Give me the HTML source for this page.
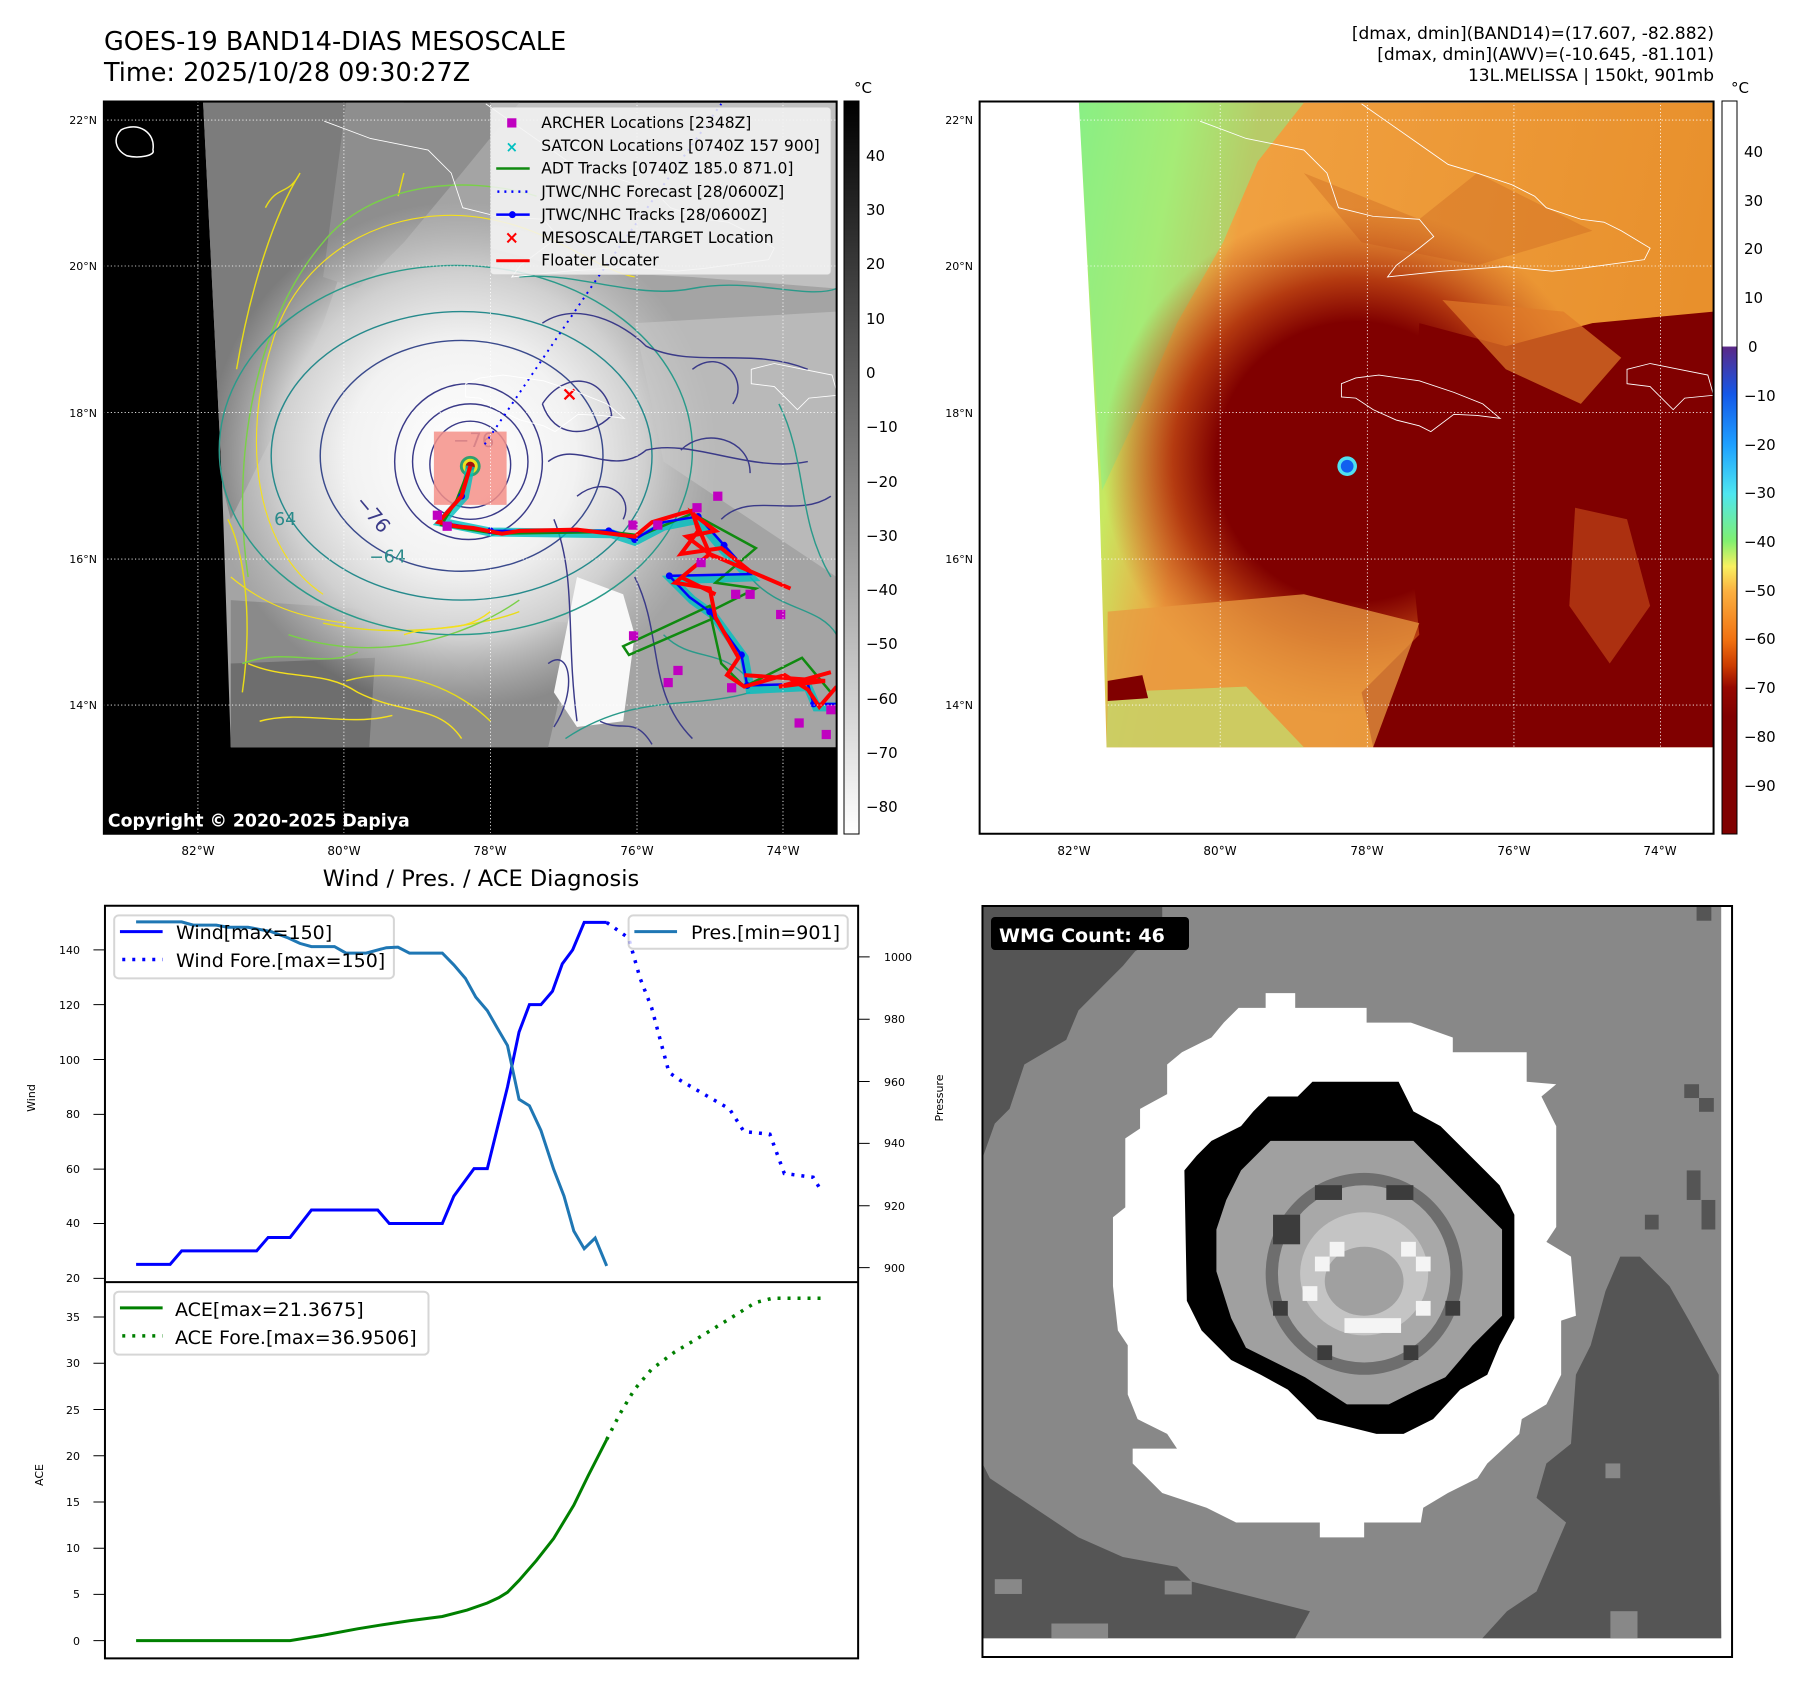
<!DOCTYPE html>
<html><head><meta charset="utf-8"><style>
html,body{margin:0;padding:0;background:#fff}
svg{display:block;font-family:"DejaVu Sans","Liberation Sans",sans-serif}
</style></head><body>
<svg width="1797" height="1690" viewBox="0 0 1797 1690" xmlns="http://www.w3.org/2000/svg">
<defs>
<linearGradient id="cb1" x1="0" y1="0" x2="0" y2="1"><stop offset="0" stop-color="#000"/><stop offset="1" stop-color="#fff"/></linearGradient>
<linearGradient id="cb2" x1="0" y1="0" x2="0" y2="1">
<stop offset="0" stop-color="#fff"/><stop offset="0.334" stop-color="#fff"/><stop offset="0.336" stop-color="#5a2888"/>
<stop offset="0.40" stop-color="#1458e8"/><stop offset="0.469" stop-color="#1ea0ff"/><stop offset="0.536" stop-color="#4ee6f0"/>
<stop offset="0.60" stop-color="#80f070"/><stop offset="0.635" stop-color="#f8f060"/><stop offset="0.669" stop-color="#fbb040"/>
<stop offset="0.736" stop-color="#f07010"/><stop offset="0.77" stop-color="#cc3c00"/><stop offset="0.80" stop-color="#960800"/>
<stop offset="0.84" stop-color="#800000"/><stop offset="1" stop-color="#800000"/></linearGradient>
<radialGradient id="g1c" cx="800" cy="790" r="440" gradientUnits="userSpaceOnUse">
<stop offset="0" stop-color="#fff"/><stop offset="0.45" stop-color="#f2f2f2"/><stop offset="0.72" stop-color="#d0d0d0"/><stop offset="1" stop-color="#c0c0c0" stop-opacity="0"/></radialGradient>
<radialGradient id="g2c" cx="790" cy="800" r="440" gradientUnits="userSpaceOnUse">
<stop offset="0" stop-color="#800000"/><stop offset="0.55" stop-color="#800000"/><stop offset="0.72" stop-color="#b43a10"/><stop offset="1" stop-color="#c85a20" stop-opacity="0"/></radialGradient>
<linearGradient id="g2b" x1="0" y1="0" x2="1" y2="0.2">
<stop offset="0" stop-color="#8af080"/><stop offset="0.16" stop-color="#c8e860"/><stop offset="0.28" stop-color="#f0a040"/><stop offset="1" stop-color="#e8902c"/></linearGradient>
<clipPath id="c1"><rect x="180" y="176" width="1270" height="1269"/></clipPath>
<clipPath id="c2"><rect x="138" y="176" width="1272" height="1269"/></clipPath>
</defs>

<text x="104" y="50" font-size="25.5">GOES-19 BAND14-DIAS MESOSCALE</text>
<text x="104" y="81" font-size="25.5">Time: 2025/10/28 09:30:27Z</text>
<g font-size="17" text-anchor="end">
<text x="1714" y="39">[dmax, dmin](BAND14)=(17.607, -82.882)</text>
<text x="1714" y="60">[dmax, dmin](AWV)=(-10.645, -81.101)</text>
<text x="1714" y="81">13L.MELISSA | 150kt, 901mb</text>
</g>

<!-- PANEL 1 -->
<g transform="scale(0.577)">
<g clip-path="url(#c1)">
<rect x="180" y="176" width="1270" height="1269" fill="#000"/>
<polygon points="352,178 1450,178 1450,1295 400,1295 385,840" fill="#a4a4a4"/>
<polygon points="352,178 700,178 650,300 560,560 470,760 400,900 385,840" fill="#7c7c7c"/>
<polygon points="600,178 900,178 800,300 700,420 620,500 560,480" fill="#8e8e8e"/>
<polygon points="400,1040 1000,1080 950,1295 400,1295" fill="#8a8a8a"/>
<polygon points="400,1150 650,1140 640,1295 400,1295" fill="#6e6e6e"/>
<polygon points="352,178 1450,178 1450,1295 400,1295 385,840" fill="url(#g1c)"/>
<polygon points="1000,1000 1080,1030 1100,1100 1080,1250 1000,1260 960,1200 980,1100" fill="#f8f8f8"/>
<polygon points="1100,560 1450,540 1450,1000 1300,900 1150,800" fill="#c8c8c8" opacity="0.6"/>
<polygon points="850,178 1450,178 1450,500 1200,480 1000,470 850,430" fill="#d4d4d4" opacity="0.6"/>
<g fill="none" stroke-width="2.5" vector-effect="non-scaling-stroke">
<path d="M560,1030 C440,950 420,760 470,600 C520,420 700,350 850,380 C960,400 1040,470 1100,480 M400,1000 C460,1050 520,1070 600,1080" stroke="#f5e01c" stroke-width="2"/>
<path d="M410,640 C430,520 470,380 520,300 M395,900 C420,950 440,1060 420,1200 M560,1080 C700,1110 850,1080 900,1060 M600,1180 C700,1150 800,1200 850,1250 M460,360 C480,320 500,340 520,300 M690,340 L700,300" stroke="#e8dc18"/>
<path d="M430,1000 C400,800 440,560 560,420 C640,320 800,300 930,340 M500,1100 C650,1150 800,1110 900,1040 M420,1150 C500,1120 560,1160 620,1130" stroke="#7ad048"/>
<ellipse cx="790" cy="780" rx="410" ry="320" stroke="#2a9a8a"/>
<ellipse cx="800" cy="790" rx="330" ry="250" stroke="#268a8c"/>
<ellipse cx="800" cy="790" rx="245" ry="200" stroke="#3a4a8c"/>
<ellipse cx="812" cy="800" rx="128" ry="135" stroke="#3a3a88"/>
<ellipse cx="815" cy="800" rx="100" ry="100" stroke="#3a3a88"/>
<ellipse cx="815" cy="805" rx="70" ry="75" stroke="#3a3a88"/>
<path d="M940,560 C1000,520 1080,560 1120,600 C1200,640 1300,600 1400,640 M950,800 C1000,760 1060,830 1120,780 C1200,760 1300,820 1400,800 M960,900 C1000,1000 980,1100 1000,1250 M1100,1000 C1150,1100 1120,1200 1200,1280 M1250,900 C1300,850 1380,900 1440,860 M940,700 C980,640 1050,650 1060,720 C1020,760 960,760 940,700 M1000,860 C1050,820 1100,860 1080,900 M1200,640 C1250,600 1300,660 1270,700 M1180,780 C1220,740 1300,760 1300,820 M950,1150 C990,1120 1000,1200 960,1260 M1040,1250 C1080,1270 1100,1240 1130,1290" stroke="#3a3a88"/>
<path d="M900,480 C1000,470 1100,520 1200,500 C1300,480 1400,520 1450,500 M980,1280 C1100,1200 1200,1230 1300,1200 M1350,700 C1400,800 1380,900 1440,1000 M1150,1100 C1200,1150 1250,1120 1300,1180 M1300,1000 C1350,1060 1420,1050 1450,1100" stroke="#2a9a8a"/>
<path d="M430,1150 C500,1180 560,1160 620,1200 C700,1240 760,1220 800,1280 M450,1250 C520,1230 600,1260 680,1240 M700,1100 C760,1080 800,1100 850,1060" stroke="#f5e01c"/>
</g>
<g font-size="34" fill="#3a3a88"><text x="785" y="775">−76</text><text x="615" y="890" transform="rotate(50 635 880)">−76</text></g>
<g font-size="30" fill="#2a8a8a"><text x="475" y="910">64</text><text x="640" y="975">−64</text></g>
<rect x="752" y="748" width="126" height="127" fill="#f49088" opacity="0.85"/>
<circle cx="815" cy="808" r="18" fill="#30a070"/><circle cx="815" cy="808" r="13" fill="#f0e020"/><circle cx="815" cy="808" r="8" fill="#a01010"/>
<polyline points="840,770 1040,475 1250,180" fill="none" stroke="#0000ff" stroke-width="2" stroke-dasharray="2,5" vector-effect="non-scaling-stroke"/>
<polyline points="815,808 805,860 765,905 850,922 1060,925 1100,938 1150,912 1210,900 1255,955 1300,1000 1165,1005 1200,1040 1235,1065 1290,1140 1300,1195 1400,1190 1415,1225 1450,1225" fill="none" stroke="#00c0c0" stroke-width="9" opacity="0.8" vector-effect="non-scaling-stroke"/>
<polyline points="810,820 790,870 765,910 860,925 1060,922 1110,928 1200,890 1310,950 1240,1010 1310,1020 1230,1060 1250,1150 1290,1190 1390,1140 1440,1200" fill="none" stroke="#108a10" stroke-width="2.5" vector-effect="non-scaling-stroke"/>
<polygon points="1080,1120 1230,1050 1240,1070 1090,1135" fill="none" stroke="#108a10" stroke-width="2.5" vector-effect="non-scaling-stroke"/>
<polyline points="815,808 800,860 760,905 850,920 1060,920 1100,935 1150,905 1210,895 1255,945 1300,995 1160,998 1195,1035 1230,1060 1285,1135 1295,1188 1400,1185 1410,1220 1450,1220" fill="none" stroke="#0000ff" stroke-width="2.5" vector-effect="non-scaling-stroke"/>
<g fill="#0000ff"><circle cx="800" cy="860" r="6"/><circle cx="850" cy="920" r="6"/><circle cx="1055" cy="920" r="6"/><circle cx="1100" cy="935" r="6"/><circle cx="1210" cy="895" r="6"/><circle cx="1255" cy="945" r="6"/><circle cx="1160" cy="998" r="6"/><circle cx="1230" cy="1060" r="6"/><circle cx="1285" cy="1135" r="6"/><circle cx="1295" cy="1188" r="6"/><circle cx="1410" cy="1220" r="6"/></g>
<polyline points="815,808 800,860 760,905 790,912 820,915 870,925 900,920 1000,918 1060,925 1100,930 1130,905 1180,890 1200,885 1210,920 1180,960 1250,950 1300,990 1370,1020 1230,960 1170,1010 1230,1020 1240,1070 1280,1140 1260,1170 1290,1190 1360,1170 1400,1195 1420,1225 1450,1190" fill="none" stroke="#ff0000" stroke-width="4" vector-effect="non-scaling-stroke"/>
<path d="M1200,890 L1230,960 L1190,930 L1240,920 Z M1180,1000 L1240,1030 L1200,1010 Z M1290,1170 L1430,1180 L1350,1190 L1440,1165" fill="none" stroke="#ff0000" stroke-width="4" vector-effect="non-scaling-stroke"/>
<g fill="#c000c0">
<rect x="750" y="885" width="16" height="16"/><rect x="767" y="904" width="16" height="16"/><rect x="1089" y="902" width="16" height="16"/><rect x="1132" y="902" width="16" height="16"/><rect x="1200" y="872" width="16" height="16"/><rect x="1236" y="852" width="16" height="16"/><rect x="1207" y="967" width="16" height="16"/><rect x="1292" y="1022" width="16" height="16"/><rect x="1267" y="1022" width="16" height="16"/><rect x="1345" y="1057" width="16" height="16"/><rect x="1090" y="1094" width="16" height="16"/><rect x="1167" y="1154" width="16" height="16"/><rect x="1150" y="1175" width="16" height="16"/><rect x="1260" y="1184" width="16" height="16"/><rect x="1377" y="1245" width="16" height="16"/><rect x="1424" y="1265" width="16" height="16"/><rect x="1432" y="1222" width="16" height="16"/></g>
<text x="987" y="694" font-size="34" font-weight="bold" fill="#ff0000" text-anchor="middle">×</text>
<g transform="translate(42,0)" fill="none" stroke="#fff" stroke-width="1.5" vector-effect="non-scaling-stroke">
<path d="M520,210 L600,240 L700,260 L740,300 L760,360 L820,375 L900,380 L925,410 L900,430 L860,460 L845,480 L940,470 L1050,462 L1130,470 L1180,465 L1290,450 L1300,430 L1250,400 L1220,385 L1180,380 L1120,360 L1100,340 L1060,320 L1000,300 L950,285 L900,250 L850,215 L800,180"/>
<path d="M765,665 L790,655 L830,650 L900,660 L960,680 L1010,700 L1040,725 L1000,720 L960,718 L920,748 L900,738 L860,728 L820,710 L790,690 L765,688 Z"/>
<path d="M1260,640 L1300,630 L1350,640 L1400,650 L1410,685 L1360,690 L1340,710 L1300,670 L1260,665 Z"/>
</g>
<path d="M210,225 C240,210 270,230 265,260 C270,270 240,275 220,270 C200,260 195,240 210,225 Z" fill="none" stroke="#fff" stroke-width="1.5" vector-effect="non-scaling-stroke"/>
<g stroke="#fff" stroke-width="1.5" stroke-dasharray="2,4" vector-effect="non-scaling-stroke">
<line x1="180" y1="208" x2="1450" y2="208"/><line x1="180" y1="461" x2="1450" y2="461"/><line x1="180" y1="715" x2="1450" y2="715"/><line x1="180" y1="969" x2="1450" y2="969"/><line x1="180" y1="1222" x2="1450" y2="1222"/>
<line x1="343" y1="176" x2="343" y2="1445"/><line x1="596" y1="176" x2="596" y2="1445"/><line x1="850" y1="176" x2="850" y2="1445"/><line x1="1104" y1="176" x2="1104" y2="1445"/><line x1="1357" y1="176" x2="1357" y2="1445"/>
</g>
<rect x="850" y="186" width="590" height="290" rx="6" fill="#f4f4f4" opacity="0.85" stroke="#ccc"/>
<g font-size="27" fill="#000">
<text x="938" y="222">ARCHER Locations [2348Z]</text>
<text x="938" y="262">SATCON Locations [0740Z 157 900]</text>
<text x="938" y="301">ADT Tracks [0740Z 185.0 871.0]</text>
<text x="938" y="341">JTWC/NHC Forecast [28/0600Z]</text>
<text x="938" y="381">JTWC/NHC Tracks [28/0600Z]</text>
<text x="938" y="421">MESOSCALE/TARGET Location</text>
<text x="938" y="460">Floater Locater</text>
</g>
<rect x="879" y="205" width="16" height="16" fill="#c000c0"/>
<text x="887" y="263" font-size="26" fill="#00c0c0" font-weight="bold" text-anchor="middle">×</text>
<line x1="860" y1="292" x2="918" y2="292" stroke="#108a10" stroke-width="2.5" vector-effect="non-scaling-stroke"/>
<line x1="862" y1="332" x2="918" y2="332" stroke="#0000ff" stroke-width="2.5" stroke-dasharray="2,5" vector-effect="non-scaling-stroke"/>
<line x1="860" y1="372" x2="918" y2="372" stroke="#0000ff" stroke-width="2.5" vector-effect="non-scaling-stroke"/><circle cx="888" cy="372" r="6" fill="#0000ff"/>
<text x="887" y="422" font-size="30" fill="#ff0000" font-weight="bold" text-anchor="middle">×</text>
<line x1="860" y1="452" x2="918" y2="452" stroke="#ff0000" stroke-width="3" vector-effect="non-scaling-stroke"/>
<text x="187" y="1432" font-size="30" font-weight="bold" fill="#fff">Copyright © 2020-2025 Dapiya</text>
</g>
<rect x="180" y="176" width="1270" height="1269" fill="none" stroke="#000" stroke-width="2" vector-effect="non-scaling-stroke"/>
</g>
<rect x="844" y="101" width="15" height="733" fill="url(#cb1)" stroke="#000" stroke-width="1"/>
<text x="854" y="93" font-size="15">°C</text>
<g font-size="15" fill="#000">
<text x="866" y="161">40</text><text x="866" y="215">30</text><text x="866" y="269">20</text><text x="866" y="324">10</text><text x="866" y="378">0</text>
<text x="866" y="432">−10</text><text x="866" y="487">−20</text><text x="866" y="541">−30</text><text x="866" y="595">−40</text><text x="866" y="649">−50</text><text x="866" y="704">−60</text><text x="866" y="758">−70</text><text x="866" y="812">−80</text>
</g>
<g font-size="11" text-anchor="end"><text x="97" y="124">22°N</text><text x="97" y="270">20°N</text><text x="97" y="417">18°N</text><text x="97" y="563">16°N</text><text x="97" y="709">14°N</text></g>
<g font-size="12" text-anchor="middle"><text x="198" y="855">82°W</text><text x="344" y="855">80°W</text><text x="490" y="855">78°W</text><text x="637" y="855">76°W</text><text x="783" y="855">74°W</text></g>

<!-- PANEL 2 -->
<g transform="translate(900,0) scale(0.577)">
<g clip-path="url(#c2)">
<rect x="138" y="176" width="1272" height="1269" fill="#fff"/>
<polygon points="310,178 1410,178 1410,1295 358,1295 345,840" fill="url(#g2b)"/>
<polygon points="310,178 700,178 620,280 560,420 480,560 420,700 350,850" fill="#88ee88" opacity="0.55"/>
<polygon points="700,300 900,380 1000,300 1200,400 1000,460 800,420" fill="#c86020" opacity="0.35"/>
<polygon points="310,178 1410,178 1410,1295 358,1295 345,840" fill="url(#g2c)"/>
<polygon points="900,560 1050,600 1200,560 1410,540 1410,1295 820,1295 800,1200 900,1100 880,900" fill="#800000"/>
<polygon points="940,520 1150,540 1250,620 1180,700 1050,640" fill="#e07a2a" opacity="0.7"/>
<polygon points="1170,880 1260,900 1300,1050 1230,1150 1160,1050" fill="#d86020" opacity="0.5"/>
<polygon points="360,1060 700,1030 900,1080 820,1295 358,1295" fill="#e89a40" opacity="0.75"/>
<polygon points="360,1200 600,1190 700,1295 358,1295" fill="#c0e070" opacity="0.7"/>
<polygon points="360,1180 420,1170 430,1210 360,1215" fill="#800000"/>
<circle cx="775" cy="808" r="17" fill="#50e0f0"/><circle cx="775" cy="808" r="11" fill="#1060f0"/>
<g fill="none" stroke="#fff" stroke-width="1.5" vector-effect="non-scaling-stroke">
<path d="M520,210 L600,240 L700,260 L740,300 L760,360 L820,375 L900,380 L925,410 L900,430 L860,460 L845,480 L940,470 L1050,462 L1130,470 L1180,465 L1290,450 L1300,430 L1250,400 L1220,385 L1180,380 L1120,360 L1100,340 L1060,320 L1000,300 L950,285 L900,250 L850,215 L800,180"/>
<path d="M765,665 L790,655 L830,650 L900,660 L960,680 L1010,700 L1040,725 L1000,720 L960,718 L920,748 L900,738 L860,728 L820,710 L790,690 L765,688 Z"/>
<path d="M1260,640 L1300,630 L1350,640 L1400,650 L1410,685 L1360,690 L1340,710 L1300,670 L1260,665 Z"/>
</g>
<g stroke="#fff" stroke-width="1.5" stroke-dasharray="2,4" vector-effect="non-scaling-stroke">
<line x1="138" y1="208" x2="1410" y2="208"/><line x1="138" y1="461" x2="1410" y2="461"/><line x1="138" y1="715" x2="1410" y2="715"/><line x1="138" y1="969" x2="1410" y2="969"/><line x1="138" y1="1222" x2="1410" y2="1222"/>
<line x1="301" y1="176" x2="301" y2="1445"/><line x1="555" y1="176" x2="555" y2="1445"/><line x1="810" y1="176" x2="810" y2="1445"/><line x1="1064" y1="176" x2="1064" y2="1445"/><line x1="1318" y1="176" x2="1318" y2="1445"/>
</g>
</g>
<rect x="138" y="176" width="1272" height="1269" fill="none" stroke="#000" stroke-width="2" vector-effect="non-scaling-stroke"/>
</g>
<rect x="1722" y="101" width="15" height="733" fill="url(#cb2)" stroke="#000" stroke-width="1"/>
<text x="1731" y="93" font-size="15">°C</text>
<g font-size="15" fill="#000">
<text x="1744" y="157">40</text><text x="1744" y="206">30</text><text x="1744" y="254">20</text><text x="1744" y="303">10</text><text x="1748" y="352">0</text>
<text x="1744" y="401">−10</text><text x="1744" y="450">−20</text><text x="1744" y="498">−30</text><text x="1744" y="547">−40</text><text x="1744" y="596">−50</text><text x="1744" y="644">−60</text><text x="1744" y="693">−70</text><text x="1744" y="742">−80</text><text x="1744" y="791">−90</text>
</g>
<g font-size="11" text-anchor="end"><text x="973" y="124">22°N</text><text x="973" y="270">20°N</text><text x="973" y="417">18°N</text><text x="973" y="563">16°N</text><text x="973" y="709">14°N</text></g>
<g font-size="12" text-anchor="middle"><text x="1074" y="855">82°W</text><text x="1220" y="855">80°W</text><text x="1367" y="855">78°W</text><text x="1514" y="855">76°W</text><text x="1660" y="855">74°W</text></g>

<!-- PANEL 3 -->
<text x="481" y="886" font-size="22.5" text-anchor="middle">Wind / Pres. / ACE Diagnosis</text>
<g transform="translate(0,852) scale(0.5767,0.5376)">
<polyline vector-effect="non-scaling-stroke" stroke="#0000ff" stroke-width="3" fill="none" points="236,767 295,767 315,742 445,742 465,717 503,717 540,666 655,666 675,691 767,691 787,640 822,589 845,589 880,437 900,335 918,284 938,284 958,259 975,208 993,182 1013,131 1052,131"/>
<polyline vector-effect="non-scaling-stroke" stroke="#0000ff" stroke-width="3.5" stroke-dasharray="3,7" fill="none" points="1052,131 1090,160 1110,235 1130,290 1145,350 1160,410 1180,425 1220,450 1265,478 1290,520 1335,525 1360,598 1410,605 1425,632"/>
<rect x="198" y="118" width="485" height="117" rx="8" fill="#fff" opacity="0.8" stroke="#ccc" stroke-width="2" vector-effect="non-scaling-stroke"/>
<line x1="208" y1="148" x2="282" y2="148" stroke="#0000ff" stroke-width="3" vector-effect="non-scaling-stroke"/>
<line x1="212" y1="200" x2="282" y2="200" stroke="#0000ff" stroke-width="3.5" stroke-dasharray="3,7" vector-effect="non-scaling-stroke"/>
<rect x="1090" y="118" width="380" height="62" rx="8" fill="#fff" opacity="0.8" stroke="#ccc" stroke-width="2" vector-effect="non-scaling-stroke"/>
<line x1="1100" y1="148" x2="1174" y2="148" stroke="#1f77b4" stroke-width="3" vector-effect="non-scaling-stroke"/>
<polyline vector-effect="non-scaling-stroke" stroke="#1f77b4" stroke-width="3" fill="none" points="236,130 315,130 335,136 375,136 395,140 430,140 470,148 500,160 520,170 540,176 580,176 600,188 635,188 670,178 690,177 710,188 767,188 787,210 807,235 825,270 845,295 862,327 880,360 900,460 918,472 938,518 960,590 978,640 995,705 1013,738 1032,718 1052,770"/>
<polyline vector-effect="non-scaling-stroke" stroke="#008000" stroke-width="3" fill="none" points="236,1467 503,1467 560,1457 620,1445 660,1438 710,1430 767,1422 810,1410 845,1397 865,1387 880,1377 900,1355 930,1318 960,1277 995,1215 1020,1160 1052,1093"/>
<polyline vector-effect="non-scaling-stroke" stroke="#008000" stroke-width="3.5" stroke-dasharray="3,7" fill="none" points="1052,1093 1075,1045 1100,1000 1130,962 1170,930 1220,898 1270,865 1310,838 1340,830 1425,830"/>
<rect x="198" y="818" width="545" height="117" rx="8" fill="#fff" opacity="0.8" stroke="#ccc" stroke-width="2" vector-effect="non-scaling-stroke"/>
<line x1="208" y1="848" x2="282" y2="848" stroke="#008000" stroke-width="3" vector-effect="non-scaling-stroke"/>
<line x1="212" y1="900" x2="282" y2="900" stroke="#008000" stroke-width="3.5" stroke-dasharray="3,7" vector-effect="non-scaling-stroke"/>
<rect x="182" y="100" width="1306" height="1400" fill="none" stroke="#000" stroke-width="2" vector-effect="non-scaling-stroke"/>
<line x1="182" y1="800" x2="1488" y2="800" stroke="#000" stroke-width="2" vector-effect="non-scaling-stroke"/>
<path vector-effect="non-scaling-stroke" stroke="#000" stroke-width="1" d="M162,182H182M162,284H182M162,386H182M162,488H182M162,590H182M162,691H182M162,793H182M162,865H182M162,951H182M162,1037H182M162,1123H182M162,1209H182M162,1295H182M162,1381H182M162,1467H182M1488,195H1508M1488,311H1508M1488,427H1508M1488,542H1508M1488,658H1508M1488,773H1508"/>
</g>
<g font-size="19"><text x="176" y="939">Wind[max=150]</text><text x="176" y="967">Wind Fore.[max=150]</text>
<text x="691" y="939">Pres.[min=901]</text>
<text x="175" y="1316">ACE[max=21.3675]</text><text x="175" y="1344">ACE Fore.[max=36.9506]</text></g>
<g font-size="11" text-anchor="end">
<text x="80" y="954">140</text><text x="80" y="1009">120</text><text x="80" y="1064">100</text><text x="80" y="1118">80</text><text x="80" y="1173">60</text><text x="80" y="1227">40</text><text x="80" y="1282">20</text>
<text x="80" y="1321">35</text><text x="80" y="1367">30</text><text x="80" y="1414">25</text><text x="80" y="1460">20</text><text x="80" y="1506">15</text><text x="80" y="1552">10</text><text x="80" y="1598">5</text><text x="80" y="1645">0</text>
</g>
<g font-size="11"><text x="884" y="961">1000</text><text x="884" y="1023">980</text><text x="884" y="1086">960</text><text x="884" y="1147">940</text><text x="884" y="1210">920</text><text x="884" y="1272">900</text></g>
<text transform="translate(35,1098) rotate(-90)" font-size="11" text-anchor="middle">Wind</text>
<text transform="translate(43,1475) rotate(-90)" font-size="11" text-anchor="middle">ACE</text>
<text transform="translate(943,1098) rotate(-90)" font-size="11" text-anchor="middle">Pressure</text>

<!-- PANEL 4 -->
<g transform="translate(980,902) scale(0.4925)">
<rect x="5" y="8" width="1522" height="1525" fill="#fff"/>
<rect x="5" y="8" width="1500" height="1487" fill="#888"/>
<polygon points="5,10 370,10 370,70 315,100 290,130 260,160 200,220 175,280 90,330 60,420 30,450 5,520" fill="#555"/>
<polygon points="1300,720 1340,720 1400,780 1440,850 1500,960 1505,1495 1020,1495 1070,1440 1130,1400 1160,1330 1190,1260 1130,1210 1150,1140 1200,1100 1210,960 1240,900 1270,790" fill="#555"/>
<polygon points="5,1140 20,1170 110,1230 200,1290 290,1330 400,1350 430,1380 550,1410 670,1440 640,1495 5,1495" fill="#555"/>
<g fill="#888"><rect x="30" y="1375" width="55" height="30"/><rect x="145" y="1465" width="115" height="30"/><rect x="375" y="1378" width="55" height="28"/><rect x="1270" y="1140" width="30" height="30"/><rect x="1280" y="1440" width="55" height="55"/></g>
<g fill="#555"><rect x="1430" y="370" width="30" height="28"/><rect x="1460" y="398" width="30" height="28"/><rect x="1435" y="545" width="28" height="60"/><rect x="1465" y="605" width="28" height="60"/><rect x="1350" y="635" width="28" height="30"/><rect x="1455" y="10" width="30" height="28"/></g>
<polygon fill="#fff" points="580,185 640,185 640,215 785,215 785,245 875,245 960,275 960,305 1110,305 1110,365 1170,370 1140,395 1170,455 1170,660 1150,690 1200,720 1210,840 1180,850 1180,960 1150,1020 1100,1050 1095,1080 1030,1140 1010,1170 950,1200 900,1230 895,1260 780,1260 780,1290 690,1290 690,1260 520,1260 460,1230 370,1200 340,1170 310,1140 310,1110 400,1110 380,1080 320,1050 300,1000 300,900 280,870 270,780 270,640 295,620 295,480 325,460 325,420 380,390 380,330 410,305 470,275 495,245 525,215 580,215"/>
<polygon fill="#000" points="675,365 850,365 880,425 935,455 965,485 995,515 1025,545 1055,575 1085,635 1085,845 1055,900 1030,960 975,990 920,1050 860,1080 805,1080 685,1050 625,990 570,960 510,930 480,900 450,870 420,810 415,545 440,515 470,485 530,455 555,425 585,395 615,395 645,395"/>
<polygon fill="#a0a0a0" points="590,485 880,485 910,515 940,545 970,575 1000,605 1030,635 1060,665 1060,840 1030,870 1000,900 975,930 945,965 890,990 830,1020 745,1020 660,965 600,935 540,905 510,845 480,750 480,665 500,605 530,545 560,515"/>
<ellipse cx="780" cy="755" rx="200" ry="205" fill="#6e6e6e"/>
<ellipse cx="780" cy="755" rx="175" ry="180" fill="#a8a8a8"/>
<ellipse cx="780" cy="755" rx="130" ry="125" fill="#c4c4c4"/>
<ellipse cx="780" cy="770" rx="80" ry="70" fill="#a0a0a0"/>
<g fill="#3c3c3c"><rect x="680" y="575" width="55" height="30"/><rect x="825" y="575" width="55" height="30"/><rect x="595" y="635" width="55" height="60"/><rect x="595" y="810" width="30" height="30"/><rect x="945" y="810" width="30" height="30"/><rect x="685" y="900" width="30" height="30"/><rect x="860" y="900" width="30" height="30"/></g>
<g fill="#f4f4f4"><rect x="710" y="690" width="30" height="30"/><rect x="680" y="720" width="30" height="30"/><rect x="855" y="690" width="30" height="30"/><rect x="885" y="720" width="30" height="30"/><rect x="655" y="780" width="30" height="30"/><rect x="885" y="810" width="30" height="30"/><rect x="740" y="845" width="115" height="30"/></g>
<rect x="5" y="8" width="1522" height="1525" fill="none" stroke="#000" stroke-width="2" vector-effect="non-scaling-stroke"/>
</g>
<rect x="991" y="917" width="198" height="33" rx="4" fill="#000"/>
<text x="999" y="942" font-size="19" font-weight="bold" fill="#fff">WMG Count: 46</text>
</svg>
</body></html>
